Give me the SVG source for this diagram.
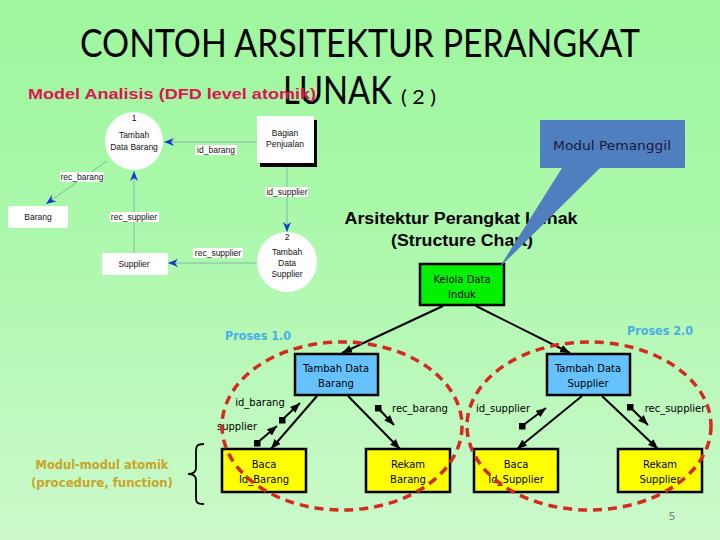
<svg xmlns="http://www.w3.org/2000/svg" width="720" height="540" viewBox="0 0 720 540">
<defs>
<linearGradient id="bg" x1="0" y1="0" x2="0" y2="1">
<stop offset="0" stop-color="#9ef79e"/>
<stop offset="0.4" stop-color="#aaf8aa"/>
<stop offset="1" stop-color="#cbf9cb"/>
</linearGradient>
<marker id="ab" markerUnits="userSpaceOnUse" markerWidth="10" markerHeight="8" refX="10" refY="4" orient="auto">
<path d="M0,0 L10,4 L0,8 L3,4 z" fill="#1a3ccc"/>
</marker>
<marker id="ak" markerUnits="userSpaceOnUse" markerWidth="10" markerHeight="8" refX="10" refY="4" orient="auto">
<path d="M0,0 L10,4 L0,8 z" fill="#000"/>
</marker>
<marker id="sq" markerUnits="userSpaceOnUse" markerWidth="7" markerHeight="7" refX="3.5" refY="3.5" orient="0">
<rect x="0" y="0" width="7" height="7" fill="#000"/>
</marker>
</defs>
<style>
.title{font-family:Lato,"Open Sans",sans-serif;fill:#000}
.dfd{font-family:"Liberation Sans",Arial,sans-serif;font-size:8.5px;fill:#111;text-anchor:middle}
.dl{stroke:#7fb8a8;stroke-width:1;fill:none;marker-end:url(#ab)}
.lbg{fill:#fff}
.sc{font-family:"DejaVu Sans",Verdana,sans-serif;font-size:10px;fill:#000;text-anchor:middle}
.box{stroke:#000;stroke-width:2.5}
.sl{stroke:#000;stroke-width:2;fill:none;marker-end:url(#ak)}
.cp{stroke:#000;stroke-width:2;fill:none;marker-end:url(#ak);marker-start:url(#sq)}
.pr{font-family:"DejaVu Sans",Verdana,sans-serif;font-size:12px;font-weight:bold;fill:#4aaee6}
.ring{fill:none;stroke:#d42a20;stroke-width:3.5;stroke-dasharray:9,6}
</style>
<rect width="720" height="540" fill="url(#bg)"/>

<!-- Titles -->
<text class="title" x="360" y="57" font-size="38" text-anchor="middle" textLength="560" lengthAdjust="spacingAndGlyphs">CONTOH ARSITEKTUR PERANGKAT</text>
<text class="title" x="283" y="104" font-size="38" textLength="109" lengthAdjust="spacingAndGlyphs">LUNAK</text>
<text class="title" x="401" y="104" font-size="19" textLength="35" lengthAdjust="spacingAndGlyphs">( 2 )</text>
<text x="28" y="99" font-family="Liberation Sans,Arial,sans-serif" font-size="15" font-weight="bold" fill="#dc1452" textLength="288" lengthAdjust="spacingAndGlyphs">Model Analisis (DFD level atomik)</text>

<!-- DFD connectors -->
<g id="dfd-connectors">
<line class="dl" x1="257" y1="142" x2="164" y2="142"/>
<rect class="lbg" x="195" y="145" width="42" height="10"/>
<text class="dfd" x="216" y="153">id_barang</text>

<line class="dl" x1="107" y1="161" x2="46" y2="204"/>
<rect class="lbg" x="60" y="172" width="44" height="10"/>
<text class="dfd" x="82" y="180">rec_barang</text>

<line class="dl" x1="134" y1="253" x2="134" y2="171"/>
<rect class="lbg" x="110" y="212" width="49" height="10"/>
<text class="dfd" x="134" y="220">rec_supplier</text>

<line class="dl" x1="287" y1="163" x2="287" y2="232"/>
<rect class="lbg" x="265" y="187" width="43" height="10"/>
<text class="dfd" x="287" y="195">id_supplier</text>

<line class="dl" x1="257" y1="263" x2="168" y2="263"/>
<rect class="lbg" x="193" y="248" width="50" height="10"/>
<text class="dfd" x="218" y="256">rec_supplier</text>
</g>

<!-- DFD nodes -->
<g id="dfd-p1">
<circle cx="134" cy="141" r="29" fill="#fff"/>
<text class="dfd" x="134" y="121">1</text>
<text class="dfd" x="134" y="138">Tambah</text>
<text class="dfd" x="134" y="150">Data Barang</text>
</g>
<g id="dfd-bagian">
<rect x="260" y="120" width="57" height="47" fill="#000"/>
<rect x="257" y="116" width="57" height="47" fill="#fff"/>
<text class="dfd" x="285" y="136">Bagian</text>
<text class="dfd" x="285" y="147">Penjualan</text>
</g>
<g id="dfd-barang">
<rect x="8" y="206" width="60" height="22" fill="#fff"/>
<text class="dfd" x="38" y="220">Barang</text>
</g>
<g id="dfd-supplier">
<rect x="102" y="253" width="66" height="22" fill="#fff"/>
<text class="dfd" x="134" y="267">Supplier</text>
</g>
<g id="dfd-p2">
<circle cx="287" cy="262" r="30" fill="#fff"/>
<text class="dfd" x="287" y="240">2</text>
<text class="dfd" x="287" y="255">Tambah</text>
<text class="dfd" x="287" y="266">Data</text>
<text class="dfd" x="287" y="277">Supplier</text>
</g>

<!-- Structure chart headings -->
<text x="461" y="224" font-family="Liberation Sans,Arial,sans-serif" font-size="16" font-weight="bold" text-anchor="middle" textLength="233" lengthAdjust="spacingAndGlyphs">Arsitektur Perangkat Lunak</text>
<text x="462" y="246" font-family="Liberation Sans,Arial,sans-serif" font-size="16" font-weight="bold" text-anchor="middle" textLength="142" lengthAdjust="spacingAndGlyphs">(Structure Chart)</text>

<text class="pr" x="225" y="340" textLength="66" lengthAdjust="spacingAndGlyphs">Proses 1.0</text>
<text class="pr" x="627" y="335" textLength="66" lengthAdjust="spacingAndGlyphs">Proses 2.0</text>

<!-- Structure chart connectors -->
<g id="sc-connectors">
<line class="sl" x1="443" y1="306" x2="342" y2="353"/>
<line class="sl" x1="476" y1="306" x2="570" y2="353"/>
<line class="sl" x1="317" y1="396" x2="271" y2="449"/>
<line class="sl" x1="348" y1="396" x2="400" y2="449"/>
<line class="sl" x1="582" y1="396" x2="517" y2="449"/>
<line class="sl" x1="602" y1="396" x2="658" y2="449"/>
<line class="cp" x1="282" y1="420" x2="300" y2="403"/>
<line class="cp" x1="257" y1="443" x2="277" y2="426"/>
<line class="cp" x1="378" y1="408" x2="394" y2="425"/>
<line class="cp" x1="522" y1="426" x2="546" y2="408"/>
<line class="cp" x1="630" y1="407" x2="648" y2="425"/>
<text class="sc" x="260" y="406">id_barang</text>
<text class="sc" x="237" y="430">supplier</text>
<text class="sc" x="420" y="412">rec_barang</text>
<text class="sc" x="503" y="412">id_supplier</text>
<text class="sc" x="675" y="412">rec_supplier</text>
</g>

<!-- Structure chart nodes -->
<g id="sc-kelola">
<rect class="box" x="420" y="264" width="84" height="41" fill="#00f000"/>
<text class="sc" x="462" y="283">Kelola Data</text>
<text class="sc" x="462" y="298">Induk</text>
</g>
<g id="sc-tambah-barang">
<rect class="box" x="295" y="354" width="83" height="41" fill="#66c2ff"/>
<text class="sc" x="336" y="372">Tambah Data</text>
<text class="sc" x="336" y="387">Barang</text>
</g>
<g id="sc-tambah-supplier">
<rect class="box" x="547" y="354" width="83" height="41" fill="#66c2ff"/>
<text class="sc" x="588" y="372">Tambah Data</text>
<text class="sc" x="588" y="387">Supplier</text>
</g>
<g id="sc-baca-barang">
<rect class="box" x="222" y="449" width="84" height="43" fill="#ffff00"/>
<text class="sc" x="264" y="468">Baca</text>
<text class="sc" x="264" y="483">Id_Barang</text>
</g>
<g id="sc-rekam-barang">
<rect class="box" x="366" y="449" width="84" height="43" fill="#ffff00"/>
<text class="sc" x="408" y="468">Rekam</text>
<text class="sc" x="408" y="483">Barang</text>
</g>
<g id="sc-baca-supplier">
<rect class="box" x="474" y="449" width="84" height="43" fill="#ffff00"/>
<text class="sc" x="516" y="468">Baca</text>
<text class="sc" x="516" y="483">Id_Supplier</text>
</g>
<g id="sc-rekam-supplier">
<rect class="box" x="618" y="449" width="84" height="43" fill="#ffff00"/>
<text class="sc" x="660" y="468">Rekam</text>
<text class="sc" x="660" y="483">Supplier</text>
</g>

<!-- dashed process rings -->
<ellipse class="ring" cx="342" cy="426" rx="120" ry="84"/>
<ellipse class="ring" cx="589" cy="426" rx="122" ry="84"/>

<!-- atomic modules label -->
<text x="102" y="469" font-family="DejaVu Sans,Verdana,sans-serif" font-size="12" font-weight="bold" fill="#c8a628" text-anchor="middle" textLength="133" lengthAdjust="spacingAndGlyphs">Modul-modul atomik</text>
<text x="102" y="487" font-family="DejaVu Sans,Verdana,sans-serif" font-size="12" font-weight="bold" fill="#c8a628" text-anchor="middle" textLength="142" lengthAdjust="spacingAndGlyphs">(procedure, function)</text>
<path d="M204,444 C196,444 196,447 196,452 L196,468 C196,472 194,474 188,474 C194,474 196,476 196,480 L196,497 C196,502 196,504 204,504" fill="none" stroke="#000" stroke-width="1.8"/>

<text x="672" y="520" font-family="DejaVu Sans,Verdana,sans-serif" font-size="11" fill="#808080" text-anchor="middle">5</text>

<!-- callout -->
<g id="callout">
<path d="M540,120 L685,120 L685,168 L600,168 L499,268 L562,168 L540,168 z" fill="#4f7fbf"/>
<text x="612" y="150" font-family="DejaVu Sans,Verdana,sans-serif" font-size="13" fill="#1a1a3a" text-anchor="middle" textLength="118" lengthAdjust="spacingAndGlyphs">Modul Pemanggil</text>
</g>
</svg>
